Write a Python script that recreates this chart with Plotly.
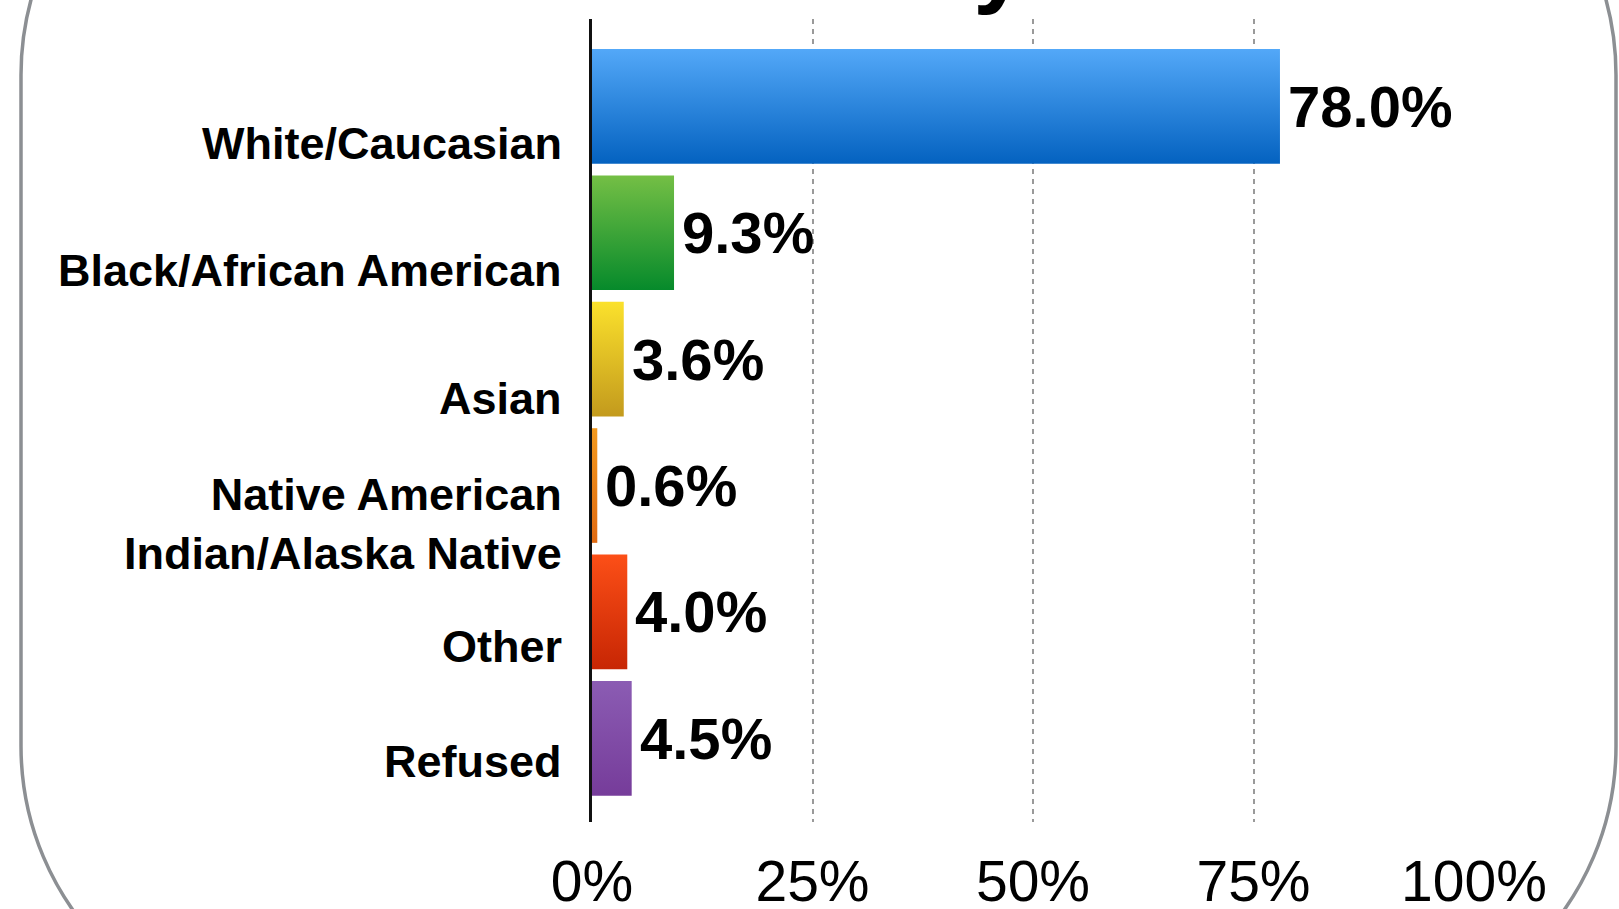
import plotly.graph_objects as go

# data
categories = [
    "White/Caucasian",
    "Black/African American",
    "Asian",
    "Native American<br>Indian/Alaska Native",
    "Other",
    "Refused",
]
shares = [78.0, 9.3, 3.6, 0.6, 4.0, 4.5]
tick_values = [0, 25, 50, 75, 100]
tick_labels = ["0%", "25%", "50%", "75%", "100%"]
title_text = "Race/Ethnicity"

# gradient colours per bar (top, bottom)
bar_colors = [
    ("#53a8f8", "#0462c0"),
    ("#74bf45", "#068a2b"),
    ("#fbe12c", "#c39a1d"),
    ("#f39a1f", "#df6a12"),
    ("#fc4f17", "#c72604"),
    ("#8b5cb3", "#763c9a"),
]
label_shift = [-37, -38, -39, -38, -35, -23]

W, H = 1619, 909
ML, MR, MT, MB = 592, 145, 19, 87
PW, PH = W - ML - MR, H - MT - MB
HALF = 0.4535
FONT = "Liberation Sans, Arial, sans-serif"


def px(x, y):
    """pixel position -> paper coordinates"""
    return (x - ML) / PW, 1 - (y - MT) / PH


fig = go.Figure()

for i, (val, (c_top, c_bot)) in enumerate(zip(shares, bar_colors)):
    fig.add_trace(go.Scatter(
        x=[0, val, val, 0, 0],
        y=[i - HALF, i - HALF, i + HALF, i + HALF, i - HALF],
        mode="lines",
        line={"width": 0},
        fill="toself",
        fillgradient={
            "type": "vertical",
            "colorscale": [[0, c_top], [1, c_bot]],
            "start": i - HALF,
            "stop": i + HALF,
        },
        name=categories[i].replace("<br>", " "),
        hovertemplate=f"{val:.1f}%<extra></extra>",
        showlegend=False,
    ))

annotations = []

# value labels at the bar ends
for i, val in enumerate(shares):
    annotations.append({
        "text": f"<b>{val:.1f}%</b>",
        "x": val, "xref": "x", "xanchor": "left", "xshift": 6,
        "y": i, "yref": "y", "yanchor": "middle", "yshift": 0,
        "showarrow": False,
        "font": {"family": FONT, "size": 58, "color": "black"},
    })

# category labels, sitting a little below each bar centre
for i, (cat, dy) in enumerate(zip(categories, label_shift)):
    annotations.append({
        "text": f"<b>{cat}</b>",
        "x": 0, "xref": "paper", "xanchor": "right", "xshift": -28,
        "y": i, "yref": "y", "yanchor": "middle", "yshift": dy,
        "showarrow": False, "align": "right",
        "font": {"family": FONT, "size": 45, "color": "black"},
    })

# clipped title at the very top
tx, ty = px(1029, 17)
annotations.append({
    "text": f"<b>{title_text}</b>",
    "x": tx, "xref": "paper", "xanchor": "right",
    "y": ty, "yref": "paper", "yanchor": "bottom",
    "showarrow": False,
    "font": {"family": FONT, "size": 96, "color": "black"},
})

# rounded slide border
L, R, T, B, r = 21, 1616, -210, 1031, 285
k = 0.5523 * r
pts = [
    ("M", [(L, T + r)]),
    ("C", [(L, T + r - k), (L + r - k, T), (L + r, T)]),
    ("L", [(R - r, T)]),
    ("C", [(R - r + k, T), (R, T + r - k), (R, T + r)]),
    ("L", [(R, B - r)]),
    ("C", [(R, B - r + k), (R - r + k, B), (R - r, B)]),
    ("L", [(L + r, B)]),
    ("C", [(L + r - k, B), (L, B - r + k), (L, B - r)]),
]
path = ""
for cmd, coords in pts:
    path += cmd + " " + " ".join("%.5f,%.5f" % px(a, b) for a, b in coords) + " "
path += "Z"

fig.update_layout(
    width=W, height=H,
    margin={"l": ML, "r": MR, "t": MT, "b": MB, "pad": 0, "autoexpand": False},
    paper_bgcolor="white",
    plot_bgcolor="white",
    font={"family": FONT, "color": "black"},
    annotations=annotations,
    shapes=[{
        "type": "path", "path": path,
        "xref": "paper", "yref": "paper",
        "line": {"color": "#8c8f93", "width": 3.5},
        "fillcolor": "rgba(0,0,0,0)",
        "layer": "above",
    }],
    xaxis={
        "range": [0, 100],
        "tickvals": tick_values,
        "ticktext": tick_labels,
        "tickfont": {"family": FONT, "size": 57, "color": "black"},
        "ticklabelstandoff": 21,
        "automargin": False,
        "showgrid": True,
        "gridcolor": "#9a9a9a",
        "gridwidth": 2,
        "griddash": "5px,5px",
        "zeroline": False,
        "showline": False,
        "ticks": "",
        "fixedrange": True,
    },
    yaxis={
        "range": [5.662, -0.691],
        "showticklabels": False,
        "automargin": False,
        "showgrid": False,
        "zeroline": False,
        "showline": True,
        "linecolor": "#111111",
        "linewidth": 2.5,
        "ticks": "",
        "fixedrange": True,
    },
)

fig.write_html(
    "out.html",
    config={"displayModeBar": False},
    post_script="document.body.style.margin='0px';",
)
